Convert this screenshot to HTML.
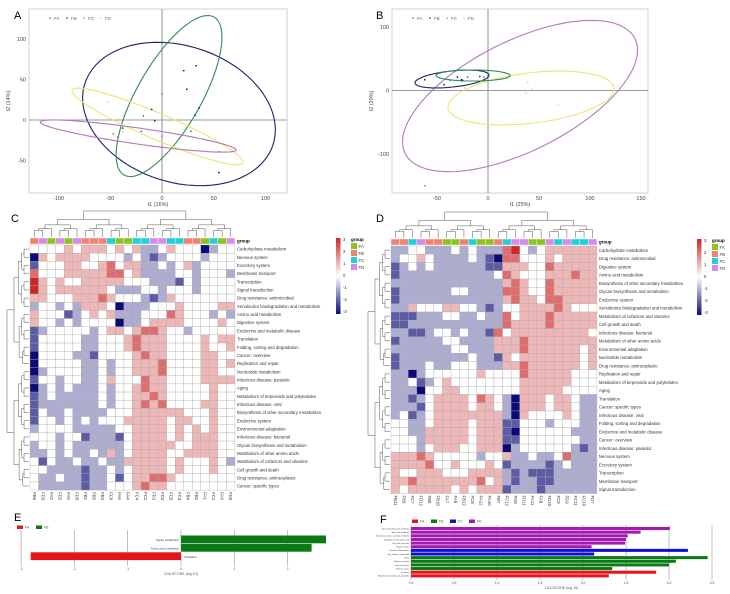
<!DOCTYPE html>
<html><head><meta charset="utf-8"><style>
html,body{margin:0;padding:0;background:#fff;}
svg{display:block;font-family:"Liberation Sans",sans-serif;}
</style></head><body>
<svg id="fig" width="730" height="594" viewBox="0 0 730 594" xmlns="http://www.w3.org/2000/svg">
<rect x="0" y="0" width="730" height="594" fill="#fff"/>
<text x="14" y="19" font-size="11">A</text>
<text x="376" y="19" font-size="11">B</text>
<text x="11" y="222" font-size="11">C</text>
<text x="376" y="222" font-size="11">D</text>
<text x="14" y="521" font-size="11">E</text>
<text x="380" y="523" font-size="11">F</text>
</svg>
<script>
// ---------- Panel A data ----------
const aPtsX = [21,33,24,36,32,0,-10,-18,-7,-38,-20,-47,-43,-38,0,28,55,55,-52];
const aPtsY = [61,67,38,15,6,32,13,5,-1,-10,-14,-17,-21,-15,-20,-14,-39,-65,22];
const aPtsGroup = ['FB','FB','FB','FB','FB','FC','FB','FA','FB','FB','FA','FC','FC','FD','FC','FA','FC','FB','FD'];
const aEllGroup = ['FB','FA','FD','FC'];
const aEllCx = [16.4,6.8,-4.3,-23];
const aEllCy = [7.4,29.6,-8,-19.8];
const aEllUx = [92.8,43.5,82.6,94.7];
const aEllUy = [-12.3,97.5,-45,-17.3];
const aEllVx = [-7.7,26.9,-4.9,-1.1];
const aEllVy = [87.7,-19.5,-14.8,-9.8];
const aXTicks = [-100,-50,0,50,100];
const aYTicks = [100,50,0,-50];
// ---------- Panel B data ----------
const bPtsX = [-62,39,43,37,69,-23,-62,-43,-37,-30,-26,-20,-4,-8,0,-25];
const bPtsY = [-150,13,2,-4,-23,4,17,9,16,21,17,21,21,22,23,16];
const bPtsGroup = ['FC','FD','FD','FD','FD','FD','FB','FB','FA','FB','FB','FA','FA','FB','FA','FB'];
const bEllGroup = ['FC','FD','FB','FA'];
const bEllCx = [31.4,42.2,-35.3,-14.7];
const bEllCy = [-8.7,-11.8,18.1,23.6];
const bEllUx = [112.7,81.4,36.3,36.3];
const bEllUy = [90.5,15.7,6.3,0];
const bEllVx = [24.1,2.9,1,0];
const bEllVy = [-77.5,-39.4,-12.6,-8.7];
const bXTicks = [-50,0,50,100,150];
const bYTicks = [100,0,-100];
// ---------- Panel C heatmap data (values -3..3 encoded 0..6) ----------
const cRowNames = ["Carbohydrate metabolism","Nervous system","Excretory system","Membrane transport","Transcription","Signal transduction","Drug resistance: antimicrobial","Xenobiotics biodegradation and metabolism","Amino acid metabolism","Digestive system","Endocrine and metabolic disease","Translation","Folding, sorting and degradation","Cancer: overview","Replication and repair","Nucleotide metabolism","Infectious disease: parasitic","Aging","Metabolism of terpenoids and polyketides","Infectious disease: viral","Biosynthesis of other secondary metabolites","Endocrine system","Environmental adaptation","Infectious disease: bacterial","Glycan biosynthesis and metabolism","Metabolism of other amino acids","Metabolism of cofactors and vitamins","Cell growth and death","Drug resistance: antineoplastic","Cancer: specific types"];
const cRows = ["333343444343422343330233","043444433332321233332333","133344334534422323423333","533344444553422223323332","643433444443332221323333","643444444322233233323333","443334445433321243333333","233232444302223334333344","433312343422233354333232","433232333302234444333343","123333323443455433233333","133333223334544433334344","133333223334544433334334","033332213333454433334433","033333223233444533334434","023333223233444533334433","133233223433354433334444","023232223233454433333433","123222223233445433333433","122222223233454533334433","132232222333444444333433","133232323334444434433433","233332222233444434343433","333233122213444434344433","233232222223444443344433","223232232423444433444433","313223223224444434333432","332222122323444434333433","322322122313445543333333","322222122333454433333333"];
const cGroups = ['FB','FD','FA','FD','FA','FD','FB','FB','FB','FC','FA','FA','FC','FC','FD','FD','FC','FC','FB','FB','FA','FC','FA','FD'];
const cColLabels = ["FB6","FD3","FA2","FD2","FA5","FD5","FB1","FB5","FB3","FC6","FA6","FA4","FC4","FC2","FD1","FD4","FC5","FC3","FB4","FB2","FA1","FC1","FA3","FD6"];
// ---------- Panel D heatmap data ----------
const dRowNames = ["Carbohydrate metabolism","Drug resistance: antimicrobial","Digestive system","Amino acid metabolism","Biosynthesis of other secondary metabolites","Glycan biosynthesis and metabolism","Endocrine system","Xenobiotics biodegradation and metabolism","Metabolism of cofactors and vitamins","Cell growth and death","Infectious disease: bacterial","Metabolism of other amino acids","Environmental adaptation","Nucleotide metabolism","Drug resistance: antineoplastic","Replication and repair","Metabolism of terpenoids and polyketides","Aging","Translation","Cancer: specific types","Infectious disease: viral","Folding, sorting and degradation","Endocrine and metabolic disease","Cancer: overview","Infectious disease: parasitic","Nervous system","Excretory system","Transcription","Membrane transport","Signal transduction"];
const dRows = ["223322232322256323444444","233432222321055333434444","123232222221144433544444","122222222222354333444544","222222222222245433544444","122222233222255433544444","122222222222245443554444","224333443321233444454333","111222332232253444544444","112222222222254444544444","221123323221534444444443","122222332222444544444444","222222233222444544444434","122222222322143444444434","122232233322244544444434","220233333343333544444333","223123433333333444444333","222033443333333444443333","221234444354320444344322","222134444344320444344322","231234444444420433334322","332234444344411333233322","332244444344410333333222","333244444344411333333322","333234443344402333333212","444543333323342232235222","444453343334312222123222","433444333444421211122222","445444444453421221122222","434444434344412221222222"];
const dGroups = ['FB','FB','FC','FD','FB','FB','FA','FA','FB','FC','FA','FA','FB','FC','FD','FD','FA','FA','FD','FC','FD','FC','FC','FD'];
const dColLabels = ["FB11","FB9","FC7","FD12","FB8","FB10","FA7","FA9","FB12","FC8","FA12","FA10","FB7","FC12","FD8","FD11","FA11","FA8","FD10","FC9","FD9","FC11","FC10","FD7"];
// ---------- Panel E data ----------
const eNames = ["Signal_transduction","Amino_acid_metabolism","Translation"];
const eValues = [2.72,2.45,-2.82];
const eGroups = ['FB','FB','FA'];
const eTicks = [-3,-2,-1,0,1,2];
// ---------- Panel F data ----------
const fNames = ["Glycan_biosynthesis_and_metabolism","Amino_acid_metabolism","Biosynthesis_of_other_secondary_metabolites","Metabolism_of_other_amino_acids","Cell_growth_and_death","Digestive_system","Xenobiotics_biodegradation","Drug_resistance_antimicrobial","Others","Membrane_transport","Signal_transduction","Endocrine_system","Translation","Metabolism_of_terpenoids_and_polyketides"];
const fValues = [3.01,2.67,2.52,2.5,2.49,2.1,3.22,2.13,3.45,3.08,3.0,2.34,2.85,2.3];
const fGroups = ['FD','FD','FD','FD','FD','FD','FC','FC','FB','FB','FB','FB','FA','FA'];
const fTicks = [0,0.5,1,1.5,2,2.5,3,3.5];

const NS = "http://www.w3.org/2000/svg";
const svg = document.getElementById('fig');
function mk(tag, attrs, parent){
  const e = document.createElementNS(NS, tag);
  for (const k in attrs) e.setAttribute(k, attrs[k]);
  (parent||svg).appendChild(e);
  return e;
}
const ellCol = {FA:'#2f8c52',FB:'#1c2366',FC:'#b27ab8',FD:'#f2e27a'};
const ptCol = {FA:'#2f8c52',FB:'#1c2366',FC:'#a070b0',FD:'#e8d870'};

function scatter(p){
  const g = mk('g',{});
  
  
  const fr = mk('rect',{x:p.l,y:p.t,width:p.r-p.l,height:p.b-p.t,fill:'#fff',stroke:'#d8d8d8','stroke-width':1.2},g);
  
  
  const vx = mk('line',{x1:p.xs(0),x2:p.xs(0),y1:p.t,y2:p.b,stroke:'#777','stroke-width':0.8},g);
  
  
  const hz = mk('line',{x1:p.l,x2:p.r,y1:p.ys(0),y2:p.ys(0),stroke:'#999','stroke-width':0.9},g);
  
  
  p.xt.forEach(v=>{
    const t = mk('text',{x:p.xs(v),y:p.b+7,'font-size':5.5,'text-anchor':'middle',fill:'#444'},g);
    
    
    t.textContent = v;
  });
  p.yt.forEach(v=>{
    const t = mk('text',{x:p.l-3,y:p.ys(v)+2,'font-size':5.5,'text-anchor':'end',fill:'#444'},g);
    
    
    t.textContent = v;
  });
  const xt = mk('text',{x:(p.l+p.r)/2,y:p.b+13,'font-size':5.5,'text-anchor':'middle',fill:'#444'},g);
  
  
  xt.textContent = p.xl;
  const yt = mk('text',{x:0,y:0,'font-size':5.5,'text-anchor':'middle',fill:'#444',transform:`translate(${p.l-19},${(p.t+p.b)/2}) rotate(-90)`},g);
  
  
  yt.textContent = p.yl;
  for(let i=0;i<p.eg.length;i++){
    let d='';
    for(let k=0;k<=72;k++){
      const a = k/72*2*Math.PI;
      const x = p.ecx[i]+p.eux[i]*Math.cos(a)+p.evx[i]*Math.sin(a);
      const y = p.ecy[i]+p.euy[i]*Math.cos(a)+p.evy[i]*Math.sin(a);
      d += (k?'L':'M')+p.xs(x).toFixed(1)+','+p.ys(y).toFixed(1);
    }
    const e = mk('path',{d:d+'Z',fill:'none',stroke:ellCol[p.eg[i]],'stroke-width':1.1},g);
    
    
  }
  for(let i=0;i<p.px.length;i++){
    const c = mk('circle',{cx:p.xs(p.px[i]),cy:p.ys(p.py[i]),r:0.9,fill:ptCol[p.pg[i]]},g);
    
    
  }
  ['FA','FB','FC','FD'].forEach((k,i)=>{
    const x = p.l+21+i*17;
    const m = mk('circle',{cx:x,cy:p.t+9,r:0.8,fill:ptCol[k]},g);
    
    
    const t = mk('text',{x:x+4,y:p.t+11,'font-size':4.5,fill:'#666'},g);
    
    
    t.textContent = k;
  });
}
scatter({name:'pca-plot-a',l:29,r:287,t:9,b:193,xs:v=>162+v*1.035,ys:v=>120-v*0.81,xt:aXTicks,yt:aYTicks,xl:'t1 (16%)',yl:'t2 (14%)',
  eg:aEllGroup,ecx:aEllCx,ecy:aEllCy,eux:aEllUx,euy:aEllUy,evx:aEllVx,evy:aEllVy,px:aPtsX,py:aPtsY,pg:aPtsGroup});
scatter({name:'pca-plot-b',l:392,r:648,t:9,b:193,xs:v=>488+v*1.02,ys:v=>90.5-v*0.635,xt:bXTicks,yt:bYTicks,xl:'t1 (25%)',yl:'t2 (20%)',
  eg:bEllGroup,ecx:bEllCx,ecy:bEllCy,eux:bEllUx,euy:bEllUy,evx:bEllVx,evy:bEllVy,px:bPtsX,py:bPtsY,pg:bPtsGroup});

// ---------- Heatmaps ----------
const grpCol = {FA:'#8cc41f',FB:'#f28074',FC:'#1fd0d8',FD:'#d88ae8'};
function heatColor(v){
  const lo=[10,10,120], mid=[255,255,255], hi=[205,38,38];
  const t = Math.max(-1,Math.min(1,v/3));
  const a = t<0?lo:hi, s=Math.abs(t);
  return 'rgb('+[0,1,2].map(i=>Math.round(mid[i]+(a[i]-mid[i])*s)).join(',')+')';
}
function dendro(g, n, pos, base, span, dir){
  // recursive halving; returns [leafPos, height]
  function rec(a,b){
    if(b-a===1) return [pos(a),0];
    const m = a+Math.ceil((b-a)/2);
    const L = rec(a,m), R = rec(m,b);
    const h = span*Math.pow((b-a)/n,0.55);
    const d = dir==='left'
      ? `M${base-L[1]},${L[0]}H${base-h}V${R[0]}H${base-R[1]}`
      : `M${L[0]},${base-L[1]}V${base-h}H${R[0]}V${base-R[1]}`;
    const p = mk('path',{d:d,fill:'none',stroke:'#555','stroke-width':0.5},g);
    
    
    return [(L[0]+R[0])/2,h];
  }
  rec(0,n);
}
function heatmap(h){
  const g = mk('g',{});
  
  
  const nc = h.groups.length, nr = h.rows.length;
  h.groups.forEach((gr,j)=>{
    const r = mk('rect',{x:h.x0+j*h.cw,y:h.gy,width:h.cw,height:h.y0-h.gy-1,fill:grpCol[gr],stroke:'#fff','stroke-width':0.4},g);
    
    
  });
  const gl = mk('text',{x:h.x0+nc*h.cw+2,y:h.gy+4.5,'font-size':4.5,'font-weight':'bold'},g);
  
  
  gl.textContent = 'group';
  h.rows.forEach((row,i)=>{
    for(let j=0;j<nc;j++){
      const v = parseInt(row[j],10)-3;
      const c = mk('rect',{x:h.x0+j*h.cw,y:h.y0+i*h.rh,width:h.cw,height:h.rh,fill:heatColor(v),stroke:'#a8a8a8','stroke-width':0.35},g);
      
      
    }
    const t = mk('text',{x:h.x0+nc*h.cw+2,y:h.y0+i*h.rh+h.rh*0.7,'font-size':4.3,fill:'#333'},g);
    
    
    t.textContent = h.names[i];
  });
  h.cols.forEach((lb,j)=>{
    const x = h.x0+j*h.cw+h.cw/2-1.5, y = h.y0+nr*h.rh+2;
    const t = mk('text',{x:0,y:0,'font-size':4.3,fill:'#333',transform:`translate(${x},${y}) rotate(90)`},g);
    
    
    t.textContent = lb;
  });
  dendro(g, nc, j=>h.x0+j*h.cw+h.cw/2, h.gy-1, 26, 'top');
  dendro(g, nr, i=>h.y0+i*h.rh+h.rh/2, h.x0-1, 22, 'left');
  // colour bar
  const gid = h.name+'-grad';
  const defs = mk('defs',{},g);
  const lg = mk('linearGradient',{id:gid,x1:0,y1:0,x2:0,y2:1},defs);
  [3,2,1,0,-1,-2,-3].forEach((v,k)=>mk('stop',{offset:k/6,'stop-color':heatColor(v)},lg));
  const cb = mk('rect',{x:h.cbx,y:h.gy,width:4.5,height:76,fill:`url(#${gid})`},g);
  
  
  [3,2,1,0,-1,-2,-3].forEach((v,k)=>{
    const t = mk('text',{x:h.cbx+7,y:h.gy+3+k*12,'font-size':4.3,fill:'#333'},g);
    
    
    t.textContent = v;
  });
  const lt = mk('text',{x:h.cbx+15,y:h.gy+3,'font-size':4.5,'font-weight':'bold'},g);
  
  
  lt.textContent = 'group';
  ['FA','FB','FC','FD'].forEach((k,i)=>{
    const r = mk('rect',{x:h.cbx+15,y:h.gy+5+i*7,width:6,height:6,fill:grpCol[k]},g);
    
    
    const t = mk('text',{x:h.cbx+22.5,y:h.gy+10+i*7,'font-size':4.3,fill:'#333'},g);
    
    
    t.textContent = k;
  });
}
heatmap({name:'heatmap-c',x0:30,cw:8.54,y0:245,rh:8.17,gy:238,rows:cRows,names:cRowNames,groups:cGroups,cols:cColLabels,cbx:336});
heatmap({name:'heatmap-d',x0:391,cw:8.58,y0:246,rh:8.25,gy:239,rows:dRows,names:dRowNames,groups:dGroups,cols:dColLabels,cbx:697});

// ---------- LDA bar charts ----------
const barCol = {FA:'#e8141a',FB:'#0a7a14',FC:'#1010d0',FD:'#a21ab0'};
function lda(c){
  const g = mk('g',{});
  
  
  c.ticks.forEach(v=>{
    const l = mk('line',{x1:c.xs(v),x2:c.xs(v),y1:c.gt,y2:c.gb,stroke:'#999','stroke-width':0.6},g);
    
    
    const t = mk('text',{x:c.xs(v),y:c.gb+4,'font-size':3.5,'text-anchor':'middle',fill:'#555'},g);
    
    
    t.textContent = c.fmt(v);
  });
  c.vals.forEach((v,i)=>{
    const y = c.bt+i*c.bh;
    const x0 = c.xs(Math.min(0,v)), x1 = c.xs(Math.max(0,v));
    const r = mk('rect',{x:x0,y:y,width:x1-x0,height:c.bh-0.6,fill:barCol[c.grp[i]]},g);
    
    
    const lx = c.side==='left' ? c.xs(0)-2 : (v>=0? c.xs(0)-2 : c.xs(0)+3);
    const t = mk('text',{x:lx,y:y+c.bh*0.65,'font-size':c.fs,'text-anchor':(c.side==='left'||v>=0)?'end':'start',fill:'#333'},g);
    
    
    t.textContent = c.names[i];
  });
  const xt = mk('text',{x:c.xs(c.mid),y:c.gb+9,'font-size':3.6,'text-anchor':'middle',fill:'#555'},g);
  
  
  xt.textContent = 'LDA SCORE (log 10)';
  c.legend.forEach((k,i)=>{
    const x = c.lx+i*c.ls;
    const r = mk('rect',{x:x,y:c.ly,width:6,height:3.5,fill:barCol[k]},g);
    
    
    const t = mk('text',{x:x+8,y:c.ly+3.2,'font-size':3.5,fill:'#555'},g);
    
    
    t.textContent = k;
  });
}
lda({name:'lda-chart-e',xs:v=>181+v*53.3,ticks:eTicks,fmt:v=>v,gt:530,gb:566,bt:535.5,bh:8.4,vals:eValues,names:eNames,grp:eGroups,fs:2.6,side:'zero',mid:0,legend:['FA','FB'],lx:17,ls:19,ly:525.5});
lda({name:'lda-chart-f',xs:v=>411+v*86,ticks:fTicks,fmt:v=>v.toFixed(1),gt:525,gb:580,bt:527,bh:3.64,vals:fValues,names:fNames,grp:fGroups,fs:1.6,side:'left',mid:1.75,legend:['FA','FB','FC','FD'],lx:412,ls:19,ly:519.5});
</script>
</body></html>
